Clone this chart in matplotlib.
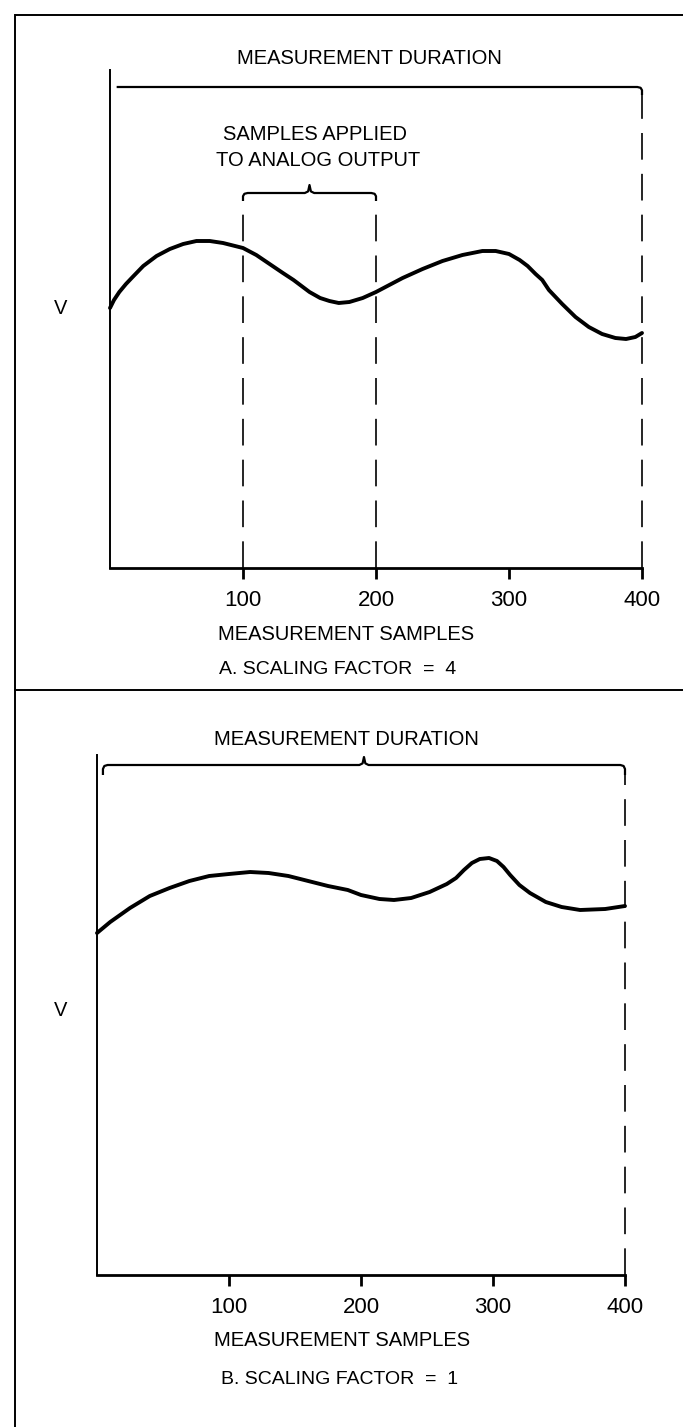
import matplotlib.pyplot as plt
from matplotlib.lines import Line2D

plt.rcParams['font.family'] = ['Liberation Sans', 'DejaVu Sans']

W, H = 683, 1427

# panel A: scaling factor 4
samples_a = [0, 3, 7, 12, 17, 25, 35, 45, 55, 65, 75, 85, 100, 110, 120, 130, 138, 143,
             150, 158, 165, 172, 180, 190, 200, 210, 220, 235, 250, 265, 280, 290, 300,
             308, 314, 320, 325, 330, 340, 350, 360, 370, 380, 388, 395, 400]
volts_a = [26.0, 26.8, 27.6, 28.4, 29.1, 30.2, 31.2, 31.9, 32.4, 32.7, 32.7, 32.5, 32.0,
           31.3, 30.4, 29.5, 28.8, 28.3, 27.6, 27.0, 26.7, 26.5, 26.6, 27.0, 27.6, 28.3,
           29.0, 29.9, 30.7, 31.3, 31.7, 31.7, 31.4, 30.8, 30.2, 29.4, 28.8, 27.8, 26.4,
           25.1, 24.1, 23.4, 23.0, 22.9, 23.1, 23.5]
window_a = (100, 200)

# panel B: scaling factor 1
samples_b = [0, 10, 25, 40, 55, 70, 85, 100, 116, 130, 145, 160, 175, 190, 200, 214, 225,
             238, 252, 265, 272, 278, 284, 290, 297, 303, 308, 313, 320, 328, 340, 352,
             366, 385, 400]
volts_b = [34.2, 35.3, 36.7, 37.9, 38.7, 39.4, 39.9, 40.1, 40.3, 40.2, 39.9, 39.4, 38.9,
           38.5, 38.0, 37.6, 37.5, 37.7, 38.3, 39.1, 39.7, 40.5, 41.2, 41.6, 41.7, 41.4,
           40.8, 40.0, 39.0, 38.2, 37.3, 36.8, 36.5, 36.6, 36.9]

duration = (0, 400)
ticks = [100, 200, 300, 400]


def fx(px):
    return px / W


def fy(py):
    return 1 - py / H


def bracket(ax, x0, x1, y, drop, cusp, r=3.5, left_hook=True):
    xc = (x0 + x1) / 2
    xs, ys = [], []
    if left_hook:
        xs += [x0, x0, x0 + r * 0.3, x0 + r]
        ys += [y - drop, y - drop * 0.4, y - drop * 0.1, y]
    else:
        xs += [x0]
        ys += [y]
    if cusp:
        xs += [xc - r, xc - r * 0.3, xc, xc + r * 0.3, xc + r]
        ys += [y, y + cusp * 0.2, y + cusp, y + cusp * 0.2, y]
    xs += [x1 - r, x1 - r * 0.3, x1, x1]
    ys += [y, y - drop * 0.1, y - drop * 0.4, y - drop]
    ax.plot(xs, ys, color='black', lw=1.6, clip_on=False, solid_capstyle='butt')


def dashed(ax, x, ytop):
    ax.plot([x, x], [0, ytop], color='black', lw=1.2, dashes=(16, 8.5), clip_on=False)


def setup(ax, ytop):
    ax.set_xlim(0, 400)
    ax.set_ylim(0, ytop)
    for s in ['top', 'right']:
        ax.spines[s].set_visible(False)
    ax.spines['left'].set_linewidth(1.4)
    ax.spines['bottom'].set_linewidth(2.0)
    ax.set_yticks([])
    ax.set_xticks(ticks)
    ax.set_xticklabels([str(t) for t in ticks], fontsize=16)
    ax.tick_params(axis='x', direction='out', length=8, width=2.0, pad=8)
    ax.patch.set_visible(False)


fig = plt.figure(figsize=(W / 100, H / 100), dpi=100)

# frame lines
lw_frame = 1.4
fig.add_artist(Line2D([fx(16), 1], [fy(15), fy(15)], color='black', lw=lw_frame))
fig.add_artist(Line2D([fx(15), fx(15)], [fy(15), 0], color='black', lw=lw_frame))
fig.add_artist(Line2D([fx(15), 1], [fy(690), fy(690)], color='black', lw=lw_frame))

# ---- panel A
ax1 = fig.add_axes([fx(110), fy(568), (642 - 110) / W, 500 / H])
setup(ax1, 50)
ax1.plot(samples_a, volts_a, color='black', lw=2.8, clip_on=False,
         solid_joinstyle='round', solid_capstyle='round')
dashed(ax1, window_a[0], 36.8)
dashed(ax1, window_a[1], 36.8)
dashed(ax1, duration[1], 47.3)
bracket(ax1, 5, duration[1], 48.1, 0.8, 0, left_hook=False)
bracket(ax1, window_a[0], window_a[1], 37.5, 0.8, 0.8)
ax1.spines['left'].set_bounds(0, 49.8)

fig.text(fx(369), fy(58), 'MEASUREMENT DURATION', fontsize=14.5, ha='center', va='center')
fig.text(fx(315), fy(134), 'SAMPLES APPLIED', fontsize=14.5, ha='center', va='center')
fig.text(fx(318), fy(161), 'TO ANALOG OUTPUT', fontsize=14.5, ha='center', va='center')
fig.text(fx(61), fy(308), 'V', fontsize=14.5, ha='center', va='center')
fig.text(fx(346), fy(635), 'MEASUREMENT SAMPLES', fontsize=14.5, ha='center', va='center')
fig.text(fx(338), fy(670), 'A. SCALING FACTOR  =  4', fontsize=14, ha='center', va='center')

# ---- panel B
ax2 = fig.add_axes([fx(97), fy(1275), (625 - 97) / W, 520 / H])
setup(ax2, 52)
ax2.plot(samples_b, volts_b, color='black', lw=2.8, clip_on=False,
         solid_joinstyle='round', solid_capstyle='round')
dashed(ax2, duration[1], 50.0)
bracket(ax2, 4.5, duration[1], 51.0, 1.0, 0.8)
ax2.spines['left'].set_bounds(0, 52)

fig.text(fx(346), fy(740), 'MEASUREMENT DURATION', fontsize=14.5, ha='center', va='center')
fig.text(fx(61), fy(1010), 'V', fontsize=14.5, ha='center', va='center')
fig.text(fx(342), fy(1340), 'MEASUREMENT SAMPLES', fontsize=14.5, ha='center', va='center')
fig.text(fx(340), fy(1380), 'B. SCALING FACTOR  =  1', fontsize=14, ha='center', va='center')

fig.savefig('out.png', dpi=100)
